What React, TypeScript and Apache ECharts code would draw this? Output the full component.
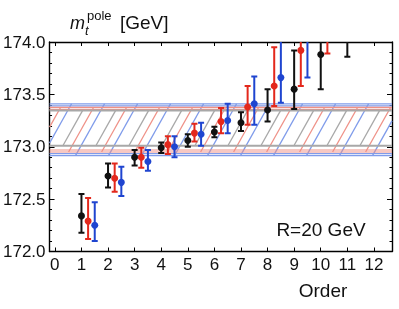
import React, { useEffect, useRef } from "react";
import * as echarts from "echarts";

const blackOrders = [1, 2, 3, 4, 5, 6, 7, 8, 9, 10, 11];
const blackVal = [172.34, 172.72, 172.9, 172.99, 173.06, 173.14, 173.23, 173.35, 173.55, 173.88, 174.35];
const blackLow = [172.18, 172.61, 172.82, 172.94, 173.0, 173.09, 173.15, 173.24, 173.36, 173.55, 173.86];
const blackHigh = [172.55, 172.84, 172.97, 173.04, 173.12, 173.19, 173.33, 173.55, 173.92, 174.25, 174.8];

const redOrders = [1.25, 2.25, 3.25, 4.25, 5.25, 6.25, 7.25, 8.25, 9.25, 10.25];
const redVal = [172.29, 172.7, 172.9, 173.02, 173.13, 173.24, 173.38, 173.58, 173.92, 174.3];
const redLow = [172.12, 172.57, 172.8, 172.93, 173.05, 173.13, 173.21, 173.39, 173.58, 173.89];
const redHigh = [172.51, 172.84, 172.99, 173.1, 173.22, 173.37, 173.58, 173.95, 174.3, 174.75];

const blueOrders = [1.5, 2.5, 3.5, 4.5, 5.5, 6.5, 7.5, 8.5, 9.5, 10.5];
const blueVal = [172.25, 172.66, 172.86, 173.0, 173.12, 173.25, 173.41, 173.66, 174.08, 174.5];
const blueLow = [172.1, 172.53, 172.77, 172.9, 173.01, 173.13, 173.21, 173.42, 173.66, 174.05];
const blueHigh = [172.47, 172.81, 172.97, 173.1, 173.23, 173.41, 173.67, 174.05, 174.5, 174.9];

// bands: [low, high]
const bandBlue = [172.915, 173.41];
const bandRed = [172.95, 173.375];
const bandGray = [173.01, 173.345];

const xTicks = [0, 1, 2, 3, 4, 5, 6, 7, 8, 9, 10, 11, 12];

const BLACK = "#111111";
const RED = "#e3281c";
const BLUE = "#1f45d0";
const BAND_BLUE = "#7f9bea";
const BAND_RED = "#ef9187";
const BAND_GRAY = "#a8a8a8";

const XMIN = -0.2;
const XMAX = 12.68;

function bandSeries(band: number[], color: string, phase: number, double: boolean) {
  return {
    type: "custom",
    silent: true,
    clip: true,
    z: 1,
    data: [[band[0], band[1]]],
    renderItem: (params: any, api: any) => {
      const cs = params.coordSys;
      const left = cs.x;
      const right = cs.x + cs.width;
      const yTop = api.coord([0, api.value(1)])[1];
      const yBot = api.coord([0, api.value(0)])[1];
      const h = yBot - yTop;
      const t = 0.56;
      const spacing = 33;
      const children: any[] = [];
      const style = { stroke: color, lineWidth: 1.3 };
      for (let xb = left - h * t - spacing + phase; xb < right + spacing; xb += spacing) {
        let x1 = xb, y1 = yBot;
        let x2 = xb + h * t, y2 = yTop;
        if (x2 < left || x1 > right) continue;
        if (x1 < left) {
          y1 = yBot - (left - xb) / t;
          x1 = left;
        }
        if (x2 > right) {
          y2 = yBot - (right - xb) / t;
          x2 = right;
        }
        children.push({ type: "line", shape: { x1, y1, x2, y2 }, style });
      }
      const edge = { stroke: color, lineWidth: double ? 1.2 : 2 };
      children.push({ type: "line", shape: { x1: left, y1: yTop, x2: right, y2: yTop }, style: edge });
      children.push({ type: "line", shape: { x1: left, y1: yBot, x2: right, y2: yBot }, style: edge });
      if (double) {
        children.push({ type: "line", shape: { x1: left, y1: yTop + 2, x2: right, y2: yTop + 2 }, style: edge });
        children.push({ type: "line", shape: { x1: left, y1: yBot - 2, x2: right, y2: yBot - 2 }, style: edge });
      }
      return { type: "group", children };
    },
  };
}

function errSeries(xs: number[], lo: number[], hi: number[], color: string) {
  return {
    type: "custom",
    silent: true,
    clip: true,
    z: 3,
    data: xs.map((x, i) => [x, lo[i], hi[i]]),
    renderItem: (params: any, api: any) => {
      const p1 = api.coord([api.value(0), api.value(1)]);
      const p2 = api.coord([api.value(0), api.value(2)]);
      const w = 3;
      const st = { stroke: color, lineWidth: 2 };
      return {
        type: "group",
        children: [
          { type: "line", shape: { x1: p1[0], y1: p1[1], x2: p2[0], y2: p2[1] }, style: st },
          { type: "line", shape: { x1: p1[0] - w, y1: p1[1], x2: p1[0] + w, y2: p1[1] }, style: st },
          { type: "line", shape: { x1: p2[0] - w, y1: p2[1], x2: p2[0] + w, y2: p2[1] }, style: st },
        ],
      };
    },
  };
}

function dotSeries(xs: number[], vals: number[], color: string) {
  return {
    type: "scatter",
    silent: true,
    clip: true,
    z: 4,
    symbol: "circle",
    symbolSize: 7,
    itemStyle: { color, opacity: 1 },
    data: xs.map((x, i) => [x, vals[i]]),
  };
}

export default function App() {
  const ref = useRef<HTMLDivElement>(null);
  useEffect(() => {
    if (!ref.current) return;
    const chart = echarts.init(ref.current, null, { renderer: "svg" });
    const font = "Liberation Sans, Arial, sans-serif";
    const axisLine = { show: true, lineStyle: { color: "#000", width: 1.4 } };
    chart.setOption({
      animation: false,
      textStyle: { fontFamily: font },
      grid: { left: 48, right: 7, top: 42, bottom: 57.5, containLabel: false },
      xAxis: [
        {
          type: "value",
          min: XMIN,
          max: XMAX,
          position: "bottom",
          axisLine: { ...axisLine, onZero: false },
          splitLine: { show: false },
          axisTick: { inside: true, length: 4, customValues: xTicks, lineStyle: { color: "#000", width: 1 } },
          axisLabel: { customValues: xTicks, color: "#111", fontSize: 17, margin: 4, fontFamily: font },
        },
        {
          type: "value",
          min: XMIN,
          max: XMAX,
          position: "top",
          axisLine: { ...axisLine, onZero: false },
          splitLine: { show: false },
          axisTick: { inside: true, length: 4, customValues: xTicks, lineStyle: { color: "#000", width: 1 } },
          axisLabel: { show: false },
        },
      ],
      yAxis: [
        {
          type: "value",
          min: 172,
          max: 174,
          interval: 0.5,
          position: "left",
          axisLine: { ...axisLine, onZero: false },
          splitLine: { show: false },
          axisTick: { inside: true, length: 5, lineStyle: { color: "#000", width: 1 } },
          minorTick: { show: true, splitNumber: 5, length: 2.5, lineStyle: { color: "#000", width: 1 } },
          axisLabel: {
            color: "#111",
            fontSize: 17,
            margin: 4,
            fontFamily: font,
            formatter: (v: number) => v.toFixed(1),
          },
        },
        {
          type: "value",
          min: 172,
          max: 174,
          interval: 0.5,
          position: "right",
          axisLine: { ...axisLine, onZero: false },
          splitLine: { show: false },
          axisTick: { inside: true, length: 5, lineStyle: { color: "#000", width: 1 } },
          minorTick: { show: true, splitNumber: 5, length: 2.5, lineStyle: { color: "#000", width: 1 } },
          axisLabel: { show: false },
        },
      ],
      graphic: [
        { type: "text", x: 70, y: 23, style: { text: "m", font: `italic 18px ${font}`, fill: "#111", verticalAlign: "middle" } },
        { type: "text", x: 87, y: 15, style: { text: "pole", font: `13px ${font}`, fill: "#111", verticalAlign: "middle" } },
        { type: "text", x: 85, y: 30, style: { text: "t", font: `italic 13px ${font}`, fill: "#111", verticalAlign: "middle" } },
        { type: "text", x: 120, y: 22, style: { text: "[GeV]", font: `19px ${font}`, fill: "#111", verticalAlign: "middle" } },
        { type: "text", x: 321, y: 229, style: { text: "R=20 GeV", font: `19px ${font}`, fill: "#111", align: "center", verticalAlign: "middle" } },
        { type: "text", x: 323, y: 290, style: { text: "Order", font: `19px ${font}`, fill: "#111", align: "center", verticalAlign: "middle" } },
      ],
      series: [
        bandSeries(bandBlue, BAND_BLUE, 22, true),
        bandSeries(bandRed, BAND_RED, 11, true),
        bandSeries(bandGray, BAND_GRAY, 0, false),
        errSeries(blackOrders, blackLow, blackHigh, BLACK),
        errSeries(redOrders, redLow, redHigh, RED),
        errSeries(blueOrders, blueLow, blueHigh, BLUE),
        dotSeries(blackOrders, blackVal, BLACK),
        dotSeries(redOrders, redVal, RED),
        dotSeries(blueOrders, blueVal, BLUE),
      ],
    });
    return () => chart.dispose();
  }, []);
  return <div ref={ref} style={{ position: "fixed", left: 0, top: 0, width: 399, height: 309 }} />;
}
